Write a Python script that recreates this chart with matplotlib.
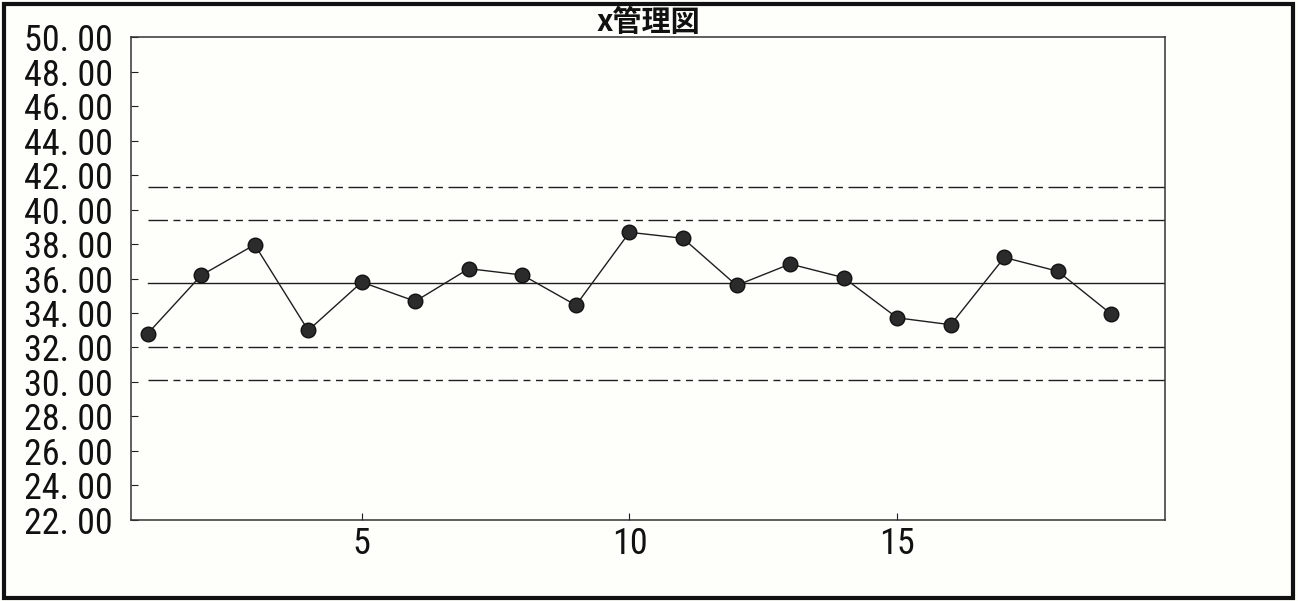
# -*- coding: utf-8 -*-
"""x管理図（スキャン画像の再現）"""
import matplotlib
matplotlib.use("Agg")
import matplotlib.pyplot as plt
from matplotlib import font_manager
from matplotlib.patches import Rectangle

# ---- データ----
sample_no = list(range(1, 20))
x_values = [32.80, 36.18, 37.96, 32.99, 35.79, 34.68, 36.57, 36.20, 34.45, 38.68,
            38.33, 35.60, 36.84, 36.05, 33.72, 33.32, 37.22, 36.42, 33.93]
cl = 35.72
ucl = 41.32
lcl = 30.12
uwl = 39.40
lwl = 32.02
y_ticks = list(range(22, 51, 2))
x_ticks = [5, 10, 15]
title = "x管理図"

# ---- フォント（細長い数字があれば使う）----
names = {f.name for f in font_manager.fontManager.ttflist}
num_font = "Liberation Sans"
for cand in ("Liberation Sans Narrow", "Roboto Condensed", "Open Sans Condensed"):
    if cand in names:
        num_font = cand
        break
narrow = num_font != "Liberation Sans"
cjk_font = ["Noto Sans CJK JP", "DejaVu Sans"]

BG = "#fefefb"
INK = "#1e1e1e"

fig = plt.figure(figsize=(12.98, 6.01), dpi=100, facecolor=BG)
ax = fig.add_axes([0.1009, 0.1348, 0.7966, 0.8036], facecolor=BG)

# 管理限界線
dash = (14, 4, 5, 4, 5, 4)
for v in (ucl, uwl, lwl, lcl):
    ln, = ax.plot([1, 20], [v, v], color=INK, lw=1.0)
    ln.set_dashes(dash)
ax.plot([1, 20], [cl, cl], color=INK, lw=1.0)

# 測定値
ax.plot(sample_no, x_values, color=INK, lw=1.0, marker="o", markersize=10.5,
        markerfacecolor="#2b2b2b", markeredgecolor="#111111", zorder=3)

ax.set_xlim(0.69, 20)
ax.set_ylim(22, 50)
ax.set_yticks(y_ticks)
ax.set_yticklabels([f"{v:.2f}".replace(".", ". ") for v in y_ticks],
                   fontsize=26 if narrow else 22, family=num_font)
ax.set_xticks(x_ticks)
ax.set_xticklabels([str(v) for v in x_ticks], fontsize=26 if narrow else 23,
                   family=num_font)
ax.tick_params(axis="y", direction="in", length=5, width=0.8, pad=13, colors=INK,
               labelcolor="#111111")
ax.tick_params(axis="x", direction="in", length=5, width=0.8, pad=4, colors=INK,
               labelcolor="#111111")
for sp in ax.spines.values():
    sp.set_linewidth(1.1)
    sp.set_color("#333333")

ax.set_title(title, fontsize=21, family=cjk_font, weight="bold", pad=1,
             color="#111111")

# 外枠
fig.add_artist(Rectangle((0.003, 0.005), 0.993, 0.988, transform=fig.transFigure,
                         fill=False, lw=3, edgecolor="#111111"))

fig.savefig("out.png", dpi=100, facecolor=BG)
